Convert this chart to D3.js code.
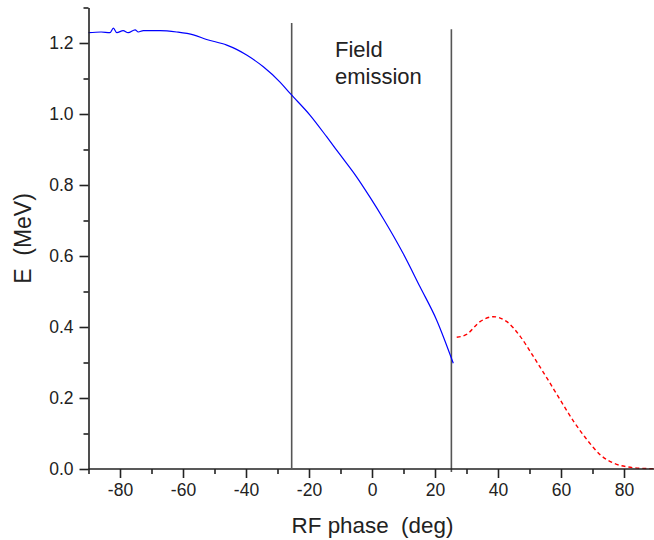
<!DOCTYPE html>
<html>
<head>
<meta charset="utf-8">
<script src="https://cdn.jsdelivr.net/npm/d3@7"></script>
<style>
  body { margin: 0; background: #fff; }
  svg { display: block; font-family: "Liberation Sans", Arial, sans-serif; }
  .title { white-space: pre; }
</style>
</head>
<body>
<svg></svg>
<script>
// data
const bluePhase = [-90, -86, -83.2, -82.1, -81, -79, -77.4, -75.2, -74.2, -72.6, -67.3, -62, -56.7, -52.5, -46.1, -43, -39.8, -34.5, -29.2, -26.0, -19.7, -14.4, -10.2, -4.9, -0.6, 3.6, 9.9, 15.2, 20.5, 25.8];
const blueE = [1.229, 1.231, 1.229, 1.242, 1.229, 1.235, 1.229, 1.237, 1.231, 1.235, 1.235, 1.231, 1.223, 1.210, 1.194, 1.182, 1.166, 1.133, 1.090, 1.058, 0.997, 0.936, 0.886, 0.823, 0.765, 0.705, 0.607, 0.514, 0.420, 0.298];
const redPhase = [26.9, 30, 34.3, 38.5, 42.8, 47.1, 51.3, 55.6, 59.8, 64.1, 68.3, 72.6, 76.8, 81.1, 85.3, 89.5];
const redE = [0.371, 0.379, 0.415, 0.429, 0.415, 0.373, 0.316, 0.255, 0.194, 0.133, 0.082, 0.039, 0.016, 0.006, 0.002, 0.001];
const markerPhase = [-25.5, 25.2];
const markerTop = [1.256, 1.239];
const xTicks = [-80, -60, -40, -20, 0, 20, 40, 60, 80];
const xMinor = [-90, -70, -50, -30, -10, 10, 30, 50, 70, 90];
const yTicks = [0, 0.2, 0.4, 0.6, 0.8, 1.0, 1.2];
const yMinor = [0.1, 0.3, 0.5, 0.7, 0.9, 1.1, 1.3];

const width = 654, height = 540;
const margin = { top: 7.5, right: 0, bottom: 71, left: 88.5 };
const h = height - margin.top - margin.bottom;

const svg = d3.select("svg").attr("width", width).attr("height", height);
const plot = svg.append("g").attr("transform", `translate(${margin.left},${margin.top})`);

const x = d3.scaleLinear().domain([-90, 90]).range([0, 567]);
const y = d3.scaleLinear().domain([0, 1.3]).range([h, 0]);

// vertical marker lines
plot.selectAll(".marker")
  .data(markerPhase)
  .join("line")
  .attr("x1", d => x(d)).attr("x2", d => x(d))
  .attr("y1", (d, i) => y(markerTop[i]))
  .attr("y2", (d, i) => y(0) + (i === 1 ? 3 : -1))
  .attr("stroke", "#555").attr("stroke-width", 1.6);

// curves
const blue = bluePhase.map((d, i) => [d, blueE[i]]);
const red = redPhase.map((d, i) => [d, redE[i]]);

plot.append("path")
  .datum(blue)
  .attr("d", d3.line().curve(d3.curveMonotoneX).x(d => x(d[0])).y(d => y(d[1])))
  .attr("fill", "none").attr("stroke", "#0000ff").attr("stroke-width", 1.2);

plot.append("path")
  .datum(red)
  .attr("d", d3.line().curve(d3.curveMonotoneX).x(d => x(d[0])).y(d => y(d[1])))
  .attr("fill", "none").attr("stroke", "#ff0000").attr("stroke-width", 1.4)
  .attr("stroke-dasharray", "4,3");

// axes
function styleAxis(g) {
  g.select(".domain").attr("stroke", "#222").attr("stroke-width", 1.6);
  g.selectAll(".tick line").attr("stroke", "#222").attr("stroke-width", 1.6);
  g.selectAll(".tick text").attr("fill", "#222").attr("font-size", 17.5)
    .attr("font-family", "Liberation Sans, Arial, sans-serif");
}

const xAxis = plot.append("g").attr("transform", `translate(0,${h})`)
  .call(d3.axisBottom(x).tickValues(xTicks).tickSize(9).tickSizeOuter(0).tickPadding(6).tickFormat(d => String(d)))
  .call(styleAxis);
xAxis.select(".domain").attr("d", `M0,0H${width}`);
plot.append("g").attr("transform", `translate(0,${h})`)
  .call(d3.axisBottom(x).tickValues(xMinor).tickSize(5).tickSizeOuter(0).tickFormat(""))
  .call(styleAxis)
  .select(".domain").remove();

plot.append("g")
  .call(d3.axisLeft(y).tickValues(yTicks).tickSize(9).tickSizeOuter(0).tickPadding(6).tickFormat(d3.format(".1f")))
  .call(styleAxis);
plot.append("g")
  .call(d3.axisLeft(y).tickValues(yMinor).tickSize(5).tickSizeOuter(0).tickFormat(""))
  .call(styleAxis)
  .select(".domain").remove();

// annotation
const note = svg.append("text").attr("x", 335).attr("font-size", 22).attr("fill", "#222");
note.append("tspan").attr("x", 335).attr("y", 57).text("Field");
note.append("tspan").attr("x", 335).attr("y", 83.5).text("emission");

// axis titles
svg.append("text").attr("class", "title")
  .attr("x", 372.5).attr("y", 533)
  .attr("text-anchor", "middle").attr("font-size", 22.4).attr("fill", "#222")
  .text("RF phase  (deg)");

svg.append("text").attr("class", "title")
  .attr("transform", "translate(31,238.5) rotate(-90)")
  .attr("text-anchor", "middle").attr("font-size", 23).attr("fill", "#222")
  .text("E  (MeV)");
</script>
</body>
</html>
